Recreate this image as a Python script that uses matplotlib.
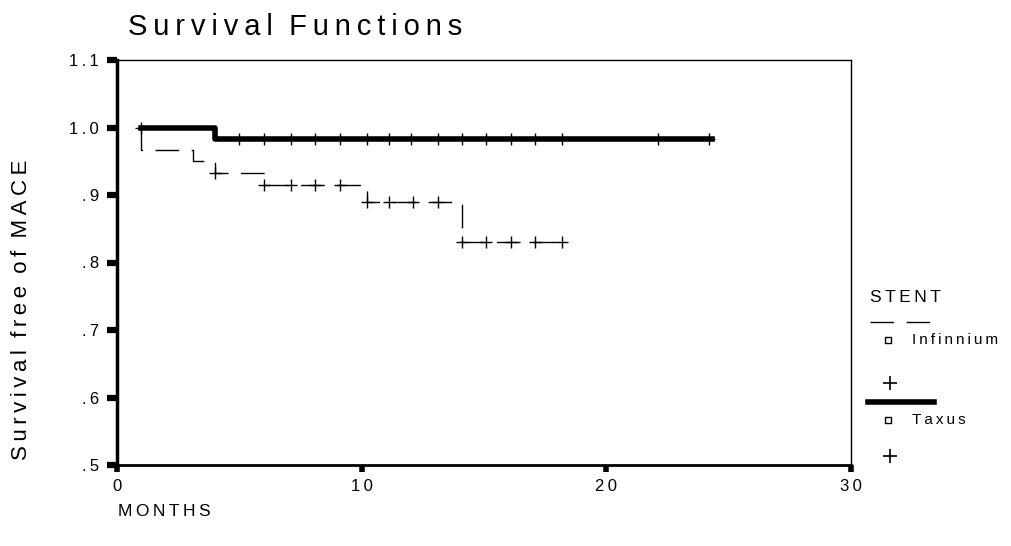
import numpy as np
import matplotlib
matplotlib.use("Agg")
import matplotlib.pyplot as plt
from matplotlib.lines import Line2D

plt.rcParams["font.family"] = ["Liberation Sans", "DejaVu Sans"]

# ---- data ----
groups = ["Infinnium", "Taxus"]

inf_times = [1.0, 1.0, 3.1, 4.0, 6.0, 10.2, 14.1, 18.4]
inf_surv = [1.0, 0.966, 0.950, 0.932, 0.915, 0.890, 0.830, 0.830]
inf_censor = [4.0, 6.0, 7.1, 8.1, 9.1, 10.2, 11.1, 12.1, 13.1, 14.1,
              15.1, 16.1, 17.1, 18.2]

tax_times = [1.0, 4.0, 24.3]
tax_surv = [1.0, 0.983, 0.983]
tax_censor = [1.0, 5.0, 6.0, 7.1, 8.1, 9.1, 10.2, 11.1, 12.0, 13.1, 14.1,
              15.1, 16.1, 17.1, 18.2, 22.1, 24.2]

x_ticks = [0, 10, 20, 30]
y_ticks = [0.5, 0.6, 0.7, 0.8, 0.9, 1.0, 1.1]
y_ticklabels = [".5", ".6", ".7", ".8", ".9", "1.0", "1.1"]


def spaced(s):
    # SPSS-style wide letter tracking
    return "\u2009".join(s)


def surv_at(t, times, surv):
    idx = np.searchsorted(times, t, side="right") - 1
    return np.asarray(surv)[np.clip(idx, 0, len(surv) - 1)]


fig = plt.figure(figsize=(10.12, 5.46), dpi=100)
ax = fig.add_axes([117 / 1012, 81 / 546, 734 / 1012, 405 / 546])

# Infinnium: thin dashed step line
ax.step(inf_times, inf_surv, where="post", color="black", lw=1.0,
        linestyle=(0, (17, 9)))
ax.plot(inf_censor, surv_at(inf_censor, inf_times, inf_surv), "+",
        color="black", ms=9, mew=1.0)

# Taxus: thick solid step line
ax.step(tax_times, tax_surv, where="post", color="black", lw=4.0)
ax.plot(tax_censor, surv_at(tax_censor, tax_times, tax_surv), "+",
        color="black", ms=9, mew=1.0)

ax.set_xlim(0, 30)
ax.set_ylim(0.5, 1.1)
ax.set_xticks(x_ticks)
ax.set_xticklabels([spaced(str(v)) for v in x_ticks], fontsize=12)
ax.set_yticks(y_ticks)
ax.set_yticklabels([spaced(s) for s in y_ticklabels], fontsize=12)
ax.tick_params(axis="y", direction="out", length=7, width=4.5, pad=6)
ax.tick_params(axis="x", direction="out", length=5, width=4, pad=5)

ax.spines["left"].set_linewidth(2.5)
ax.spines["bottom"].set_linewidth(2.0)
ax.spines["top"].set_linewidth(1.0)
ax.spines["right"].set_linewidth(1.0)

fig.text(128 / 1012, 1 - 27 / 546, spaced("Survival") + "  " + spaced("Functions"),
         fontsize=21, va="center", ha="left")
fig.text(22 / 1012, 1 - 310 / 546,
         "  ".join(spaced(w) for w in "Survival free of MACE".split()),
         fontsize=16, rotation=90, va="center", ha="center")
fig.text(118 / 1012, 1 - 511 / 546, spaced("MONTHS"), fontsize=12.5,
         va="center", ha="left")

# ---- legend, SPSS layout ----
fig.text(870 / 1012, 1 - 298 / 546, spaced("STENT"), fontsize=12.5,
         va="center", ha="left")
fig.add_artist(Line2D([870 / 1012, 932 / 1012], [1 - 322 / 546] * 2,
                      color="black", lw=1.0, linestyle=(0, (17, 9)),
                      transform=fig.transFigure))
fig.add_artist(Line2D([868 / 1012, 934 / 1012], [1 - 402 / 546] * 2,
                      color="black", lw=4.0, transform=fig.transFigure))
for name, ys, yp in zip(groups, [340, 420], [383, 456]):
    fig.add_artist(Line2D([888 / 1012], [1 - ys / 546], marker="s", ms=5,
                          mfc="white", mec="black", mew=1.0,
                          transform=fig.transFigure))
    fig.text(912 / 1012, 1 - ys / 546, spaced(name), fontsize=11,
             va="center", ha="left")
    fig.add_artist(Line2D([890 / 1012], [1 - yp / 546], marker="+", ms=10,
                          color="black", mew=1.2, transform=fig.transFigure))

fig.savefig("out.png", dpi=100)
